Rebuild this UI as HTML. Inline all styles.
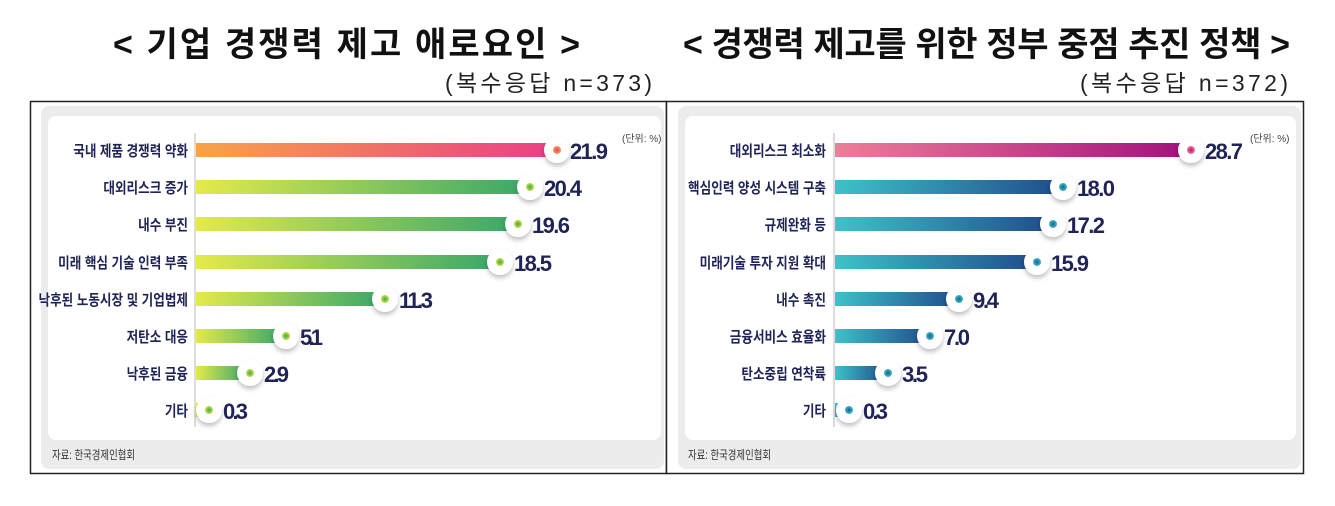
<!DOCTYPE html>
<html><head><meta charset="utf-8"><style>
body{margin:0;background:#fff;width:1335px;height:506px;overflow:hidden}
svg{display:block}
text{font-family:"Liberation Sans","Noto Sans CJK KR",sans-serif}
</style></head><body>
<svg width="1335" height="506" viewBox="0 0 1335 506" xmlns="http://www.w3.org/2000/svg">
<defs>
<linearGradient id="gO" x1="0" x2="1"><stop offset="0" stop-color="#f7a448"/><stop offset="1" stop-color="#ea3f86"/></linearGradient>
<linearGradient id="gG" x1="0" x2="1"><stop offset="0" stop-color="#e4ea4a"/><stop offset="1" stop-color="#3aa86a"/></linearGradient>
<linearGradient id="gP" x1="0" x2="1"><stop offset="0" stop-color="#ec7f99"/><stop offset="1" stop-color="#a2107c"/></linearGradient>
<linearGradient id="gT" x1="0" x2="1"><stop offset="0" stop-color="#3ec2c8"/><stop offset="1" stop-color="#1f4c8c"/></linearGradient>
<radialGradient id="dG"><stop offset="0" stop-color="#3aa860"/><stop offset="1" stop-color="#cde040"/></radialGradient>
<radialGradient id="dR"><stop offset="0" stop-color="#e84080"/><stop offset="1" stop-color="#f7a050"/></radialGradient>
<radialGradient id="dT"><stop offset="0" stop-color="#1e5a90"/><stop offset="1" stop-color="#3ec0c8"/></radialGradient>
<radialGradient id="dM"><stop offset="0" stop-color="#c0107a"/><stop offset="1" stop-color="#f07ea0"/></radialGradient>
<filter id="sh" x="-50%" y="-50%" width="200%" height="200%"><feDropShadow dx="0" dy="3" stdDeviation="2.5" flood-color="#000" flood-opacity="0.25"/></filter>
</defs>

<text x="113" y="56" textLength="467" lengthAdjust="spacing" font-size="34" font-weight="bold" fill="#111">&lt; 기업 경쟁력 제고 애로요인 &gt;</text>
<text x="445" y="91" textLength="207" lengthAdjust="spacing" font-size="23" fill="#222">(복수응답 n=373)</text>
<text x="683" y="56" textLength="607" lengthAdjust="spacing" font-size="34" font-weight="bold" fill="#111">&lt; 경쟁력 제고를 위한 정부 중점 추진 정책 &gt;</text>
<text x="1080" y="91" textLength="208" lengthAdjust="spacing" font-size="23" fill="#222">(복수응답 n=372)</text>

<rect x="30.5" y="101.5" width="636" height="372" fill="#fff" stroke="#222" stroke-width="1.5"/>
<rect x="666.5" y="101.5" width="637" height="372" fill="#fff" stroke="#222" stroke-width="1.5"/>
<rect x="41" y="106" width="623" height="363" rx="8" fill="#ececec"/>
<rect x="678" y="106" width="623" height="363" rx="8" fill="#ececec"/>
<rect x="48" y="116" width="613" height="324" rx="8" fill="#fff"/>
<rect x="685" y="116" width="611" height="324" rx="8" fill="#fff"/>
<text x="52" y="459" textLength="83" lengthAdjust="spacingAndGlyphs" font-size="12" fill="#333">자료: 한국경제인협회</text>
<text x="688" y="459" textLength="83" lengthAdjust="spacingAndGlyphs" font-size="12" fill="#333">자료: 한국경제인협회</text>
<text x="622" y="142" font-size="10" fill="#444">(단위: %)</text>
<text x="1250" y="142" font-size="10" fill="#444">(단위: %)</text>
<line x1="195" y1="133" x2="195" y2="427" stroke="#bbb" stroke-width="1"/>
<line x1="834" y1="133" x2="834" y2="427" stroke="#bbb" stroke-width="1"/>

<g font-size="15" fill="#1f2355" text-anchor="end" font-weight="bold" transform="translate(188,0) scale(0.84,1) translate(-188,0)">
<text x="188" y="156">국내 제품 경쟁력 약화</text>
<text x="188" y="193">대외리스크 증가</text>
<text x="188" y="230">내수 부진</text>
<text x="188" y="268">미래 핵심 기술 인력 부족</text>
<text x="188" y="305">낙후된 노동시장 및 기업법제</text>
<text x="188" y="342">저탄소 대응</text>
<text x="188" y="379">낙후된 금융</text>
<text x="188" y="416">기타</text>
</g>
<g font-size="15" fill="#1f2355" text-anchor="end" font-weight="bold" transform="translate(826,0) scale(0.84,1) translate(-826,0)">
<text x="826" y="156">대외리스크 최소화</text>
<text x="826" y="193">핵심인력 양성 시스템 구축</text>
<text x="826" y="230">규제완화 등</text>
<text x="826" y="268">미래기술 투자 지원 확대</text>
<text x="826" y="305">내수 촉진</text>
<text x="826" y="342">금융서비스 효율화</text>
<text x="826" y="379">탄소중립 연착륙</text>
<text x="826" y="416">기타</text>
</g>

<g>
<rect x="196" y="143" width="354" height="14" fill="url(#gO)"/>
<rect x="196" y="180" width="330" height="14" fill="url(#gG)"/>
<rect x="196" y="217" width="317" height="14" fill="url(#gG)"/>
<rect x="196" y="255" width="300" height="14" fill="url(#gG)"/>
<rect x="196" y="292" width="185" height="14" fill="url(#gG)"/>
<rect x="196" y="329" width="86" height="14" fill="url(#gG)"/>
<rect x="196" y="366" width="51" height="14" fill="url(#gG)"/>
<rect x="196" y="403" width="10" height="14" fill="url(#gG)"/>
</g>
<g filter="url(#sh)" fill="#fff">
<circle cx="557" cy="150" r="13"/><circle cx="530" cy="187" r="13"/><circle cx="518" cy="224" r="13"/><circle cx="500" cy="262" r="13"/><circle cx="385" cy="299" r="13"/><circle cx="286" cy="336" r="13"/><circle cx="250" cy="373" r="13"/><circle cx="209" cy="410" r="13"/>
</g>
<circle cx="557" cy="150" r="4" fill="url(#dR)"/>
<g fill="url(#dG)"><circle cx="530" cy="187" r="4"/><circle cx="518" cy="224" r="4"/><circle cx="500" cy="262" r="4"/><circle cx="385" cy="299" r="4"/><circle cx="286" cy="336" r="4"/><circle cx="250" cy="373" r="4"/><circle cx="209" cy="410" r="4"/></g>
<g font-size="22" font-weight="bold" fill="#1f2355" lengthAdjust="spacingAndGlyphs">
<text x="570" y="159" textLength="38">21.9</text><text x="544" y="196" textLength="38">20.4</text><text x="532" y="233" textLength="38">19.6</text><text x="514" y="271" textLength="38">18.5</text><text x="399" y="308" textLength="34">11.3</text><text x="300" y="345" textLength="23">5.1</text><text x="264" y="382" textLength="25">2.9</text><text x="223" y="419" textLength="25">0.3</text>
</g>

<g>
<rect x="835" y="143" width="355" height="14" fill="url(#gP)"/>
<rect x="835" y="180" width="226" height="14" fill="url(#gT)"/>
<rect x="835" y="217" width="217" height="14" fill="url(#gT)"/>
<rect x="835" y="255" width="201" height="14" fill="url(#gT)"/>
<rect x="835" y="292" width="123" height="14" fill="url(#gT)"/>
<rect x="835" y="329" width="94" height="14" fill="url(#gT)"/>
<rect x="835" y="366" width="52" height="14" fill="url(#gT)"/>
<rect x="835" y="403" width="12" height="14" fill="url(#gT)"/>
</g>
<g filter="url(#sh)" fill="#fff">
<circle cx="1191" cy="150" r="13"/><circle cx="1063" cy="187" r="13"/><circle cx="1053" cy="224" r="13"/><circle cx="1037" cy="262" r="13"/><circle cx="959" cy="299" r="13"/><circle cx="930" cy="336" r="13"/><circle cx="888" cy="373" r="13"/><circle cx="849" cy="410" r="13"/>
</g>
<circle cx="1191" cy="150" r="4" fill="url(#dM)"/>
<g fill="url(#dT)"><circle cx="1063" cy="187" r="4"/><circle cx="1053" cy="224" r="4"/><circle cx="1037" cy="262" r="4"/><circle cx="959" cy="299" r="4"/><circle cx="930" cy="336" r="4"/><circle cx="888" cy="373" r="4"/><circle cx="849" cy="410" r="4"/></g>
<g font-size="22" font-weight="bold" fill="#1f2355" lengthAdjust="spacingAndGlyphs">
<text x="1205" y="159" textLength="38">28.7</text><text x="1077" y="196" textLength="38">18.0</text><text x="1067" y="233" textLength="38">17.2</text><text x="1051" y="271" textLength="38">15.9</text><text x="973" y="308" textLength="26">9.4</text><text x="944" y="345" textLength="26">7.0</text><text x="902" y="382" textLength="26">3.5</text><text x="863" y="419" textLength="25">0.3</text>
</g>
</svg>
</body></html>
